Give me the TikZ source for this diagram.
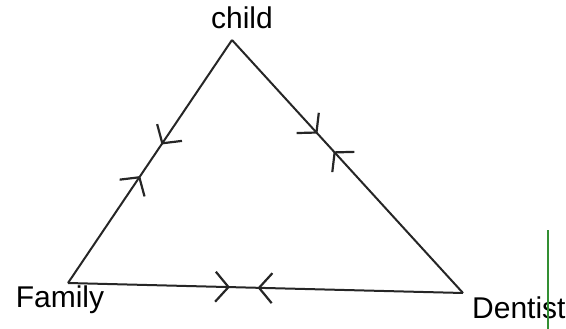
\documentclass[tikz,border=0pt]{standalone}
\usepackage{fontspec}
\setmainfont{Liberation Sans}
\usepackage{tikz}
\usetikzlibrary{arrows.meta,decorations.markings}

\begin{document}
\begin{tikzpicture}[x=1pt,y=-1pt,
  >={Straight Barb[length=13pt,width=30pt,line width=2.2pt]},
  edge/.style={draw=black!85,line width=2pt},
  twoway/.style 2 args={edge,postaction={decorate},decoration={markings,
    mark=at position #1 with {\arrow{>}},
    mark=at position #2 with {\arrowreversed{>}}}},
  lab/.style={font=\fontsize{30}{32}\selectfont,inner sep=0pt}]
\useasboundingbox (0,0) rectangle (566,329);
% corners of the triangle
\coordinate (C) at (232,40);
\coordinate (F) at (68,283);
\coordinate (D) at (463,293);
% labels
\node[lab] (child) at (242,18) {child};
\node[lab] (family) at (60,300) {Family};
\node[lab,anchor=west] (dentist) at (472,308) {Dentist};
% edges, arrows both ways
\draw[twoway={0.43}{0.56}] (C) -- (F);
\draw[twoway={0.37}{0.44}] (C) -- (D);
\draw[twoway={0.41}{0.48}] (F) -- (D);
% margin line
\draw[green!45!black!80,line width=2pt] (548,230) -- (548,329);
\end{tikzpicture}
\end{document}
